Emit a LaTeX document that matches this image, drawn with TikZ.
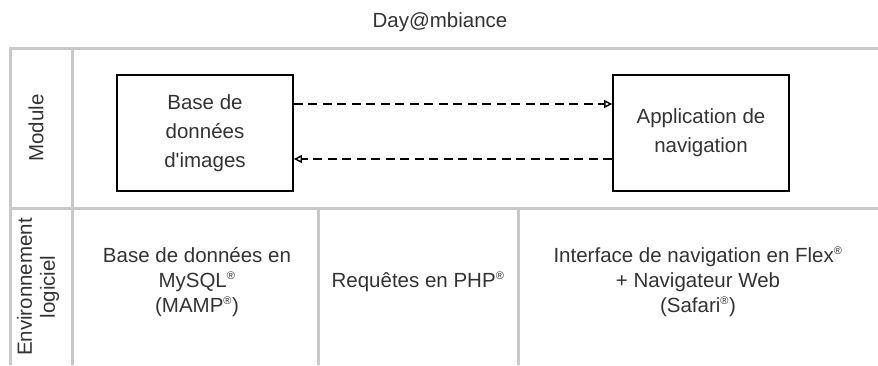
\documentclass[tikz,border=0pt]{standalone}
\usepackage{fontspec}
\setmainfont{Liberation Sans}
\usetikzlibrary{arrows.meta}
\definecolor{txt}{HTML}{333333}
\definecolor{grid}{HTML}{C8C8C8}
\newcommand{\reg}{\textsuperscript{\fontsize{11}{11}\selectfont ®}}
\begin{document}
\begin{tikzpicture}[x=1pt,y=-1pt,
  every node/.style={font=\fontsize{20.5}{25}\selectfont, text=txt, align=center, inner sep=0pt},
  boxtext/.style={font=\fontsize{20.5}{29}\selectfont},
  gridline/.style={draw=grid, line width=3pt},
  modbox/.style={draw=black, line width=1.8pt, minimum width=176pt, minimum height=116pt},
  flow/.style={draw=black, line width=2pt, dash pattern=on 9pt off 5.5pt, -{Triangle[open, length=8pt, width=8pt, line width=1.4pt]}}]
\useasboundingbox (0,0) rectangle (878,365);
% title
\node (title) at (440,22) {Day@mbiance};
% grid
\coordinate (tl) at (10,48);
\coordinate (tr) at (878,48);
\coordinate (bl) at (10,365);
\coordinate (ml) at (10,208);
\coordinate (mr) at (878,208);
\coordinate (ct) at (72,48);
\coordinate (cb) at (72,365);
\coordinate (v1t) at (318,208);
\coordinate (v1b) at (318,365);
\coordinate (v2t) at (518,208);
\coordinate (v2b) at (518,365);
\draw[gridline] (tr) -- (tl) -- (bl);
\draw[gridline] (ml) -- (mr);
\draw[gridline] (ct) -- (cb);
\draw[gridline] (v1t) -- (v1b);
\draw[gridline] (v2t) -- (v2b);
% row labels
\node[rotate=90] (lmod) at (36,128) {Module};
\node[rotate=90, font=\fontsize{20.5}{23}\selectfont] (lenv) at (38,287) {Environnement\\logiciel};
% module boxes
\node[modbox, boxtext] (db) at (205,133) {Base de\\données\\d\textquotesingle images};
\node[modbox, boxtext] (app) at (701,133) {Application de\\navigation};
\draw[flow] ([yshift=29pt]db.east) -- ([yshift=29pt]app.west);
\draw[flow] ([yshift=-26pt]app.west) -- ([yshift=-26pt]db.east);
% software environment
\node (c1) at (197,282) {Base de données en\\MySQL\reg\\(MAMP\reg)};
\node (c2) at (418,282) {Requêtes en PHP\reg};
\node (c3) at (698,282) {Interface de navigation en Flex\reg\\+ Navigateur Web\\(Safari\reg)};
\end{tikzpicture}
\end{document}
